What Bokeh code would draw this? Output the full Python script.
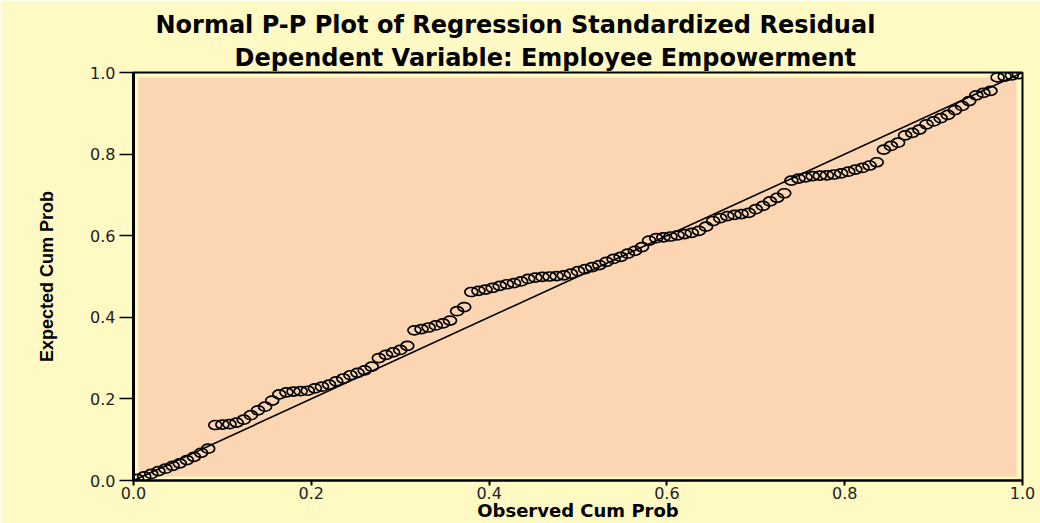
from bokeh.plotting import figure
from bokeh.models import Range1d, BoxAnnotation, FixedTicker, Slope, ColumnDataSource, Title
from bokeh.embed import file_html
from bokeh.resources import INLINE

# ---- data ----
observed = [0.004, 0.012, 0.020, 0.028, 0.036, 0.044, 0.052, 0.060, 0.068, 0.076,
            0.084, 0.092, 0.100, 0.108, 0.116, 0.124, 0.132, 0.140, 0.148, 0.156,
            0.164, 0.172, 0.180, 0.188, 0.196, 0.204, 0.212, 0.220, 0.228, 0.236,
            0.244, 0.252, 0.260, 0.268, 0.276, 0.284, 0.292, 0.300, 0.308, 0.316,
            0.324, 0.332, 0.340, 0.348, 0.356, 0.364, 0.372, 0.380, 0.388, 0.396,
            0.404, 0.412, 0.420, 0.428, 0.436, 0.444, 0.452, 0.460, 0.468, 0.476,
            0.484, 0.492, 0.500, 0.508, 0.516, 0.524, 0.532, 0.540, 0.548, 0.556,
            0.564, 0.572, 0.580, 0.588, 0.596, 0.604, 0.612, 0.620, 0.628, 0.636,
            0.644, 0.652, 0.660, 0.668, 0.676, 0.684, 0.692, 0.700, 0.708, 0.716,
            0.724, 0.732, 0.740, 0.748, 0.756, 0.764, 0.772, 0.780, 0.788, 0.796,
            0.804, 0.812, 0.820, 0.828, 0.836, 0.844, 0.852, 0.860, 0.868, 0.876,
            0.884, 0.892, 0.900, 0.908, 0.916, 0.924, 0.932, 0.940, 0.948, 0.956,
            0.964, 0.972, 0.980, 0.988, 0.996]
expected = [0.004, 0.010, 0.016, 0.023, 0.029, 0.036, 0.042, 0.050, 0.058, 0.068,
            0.078, 0.136, 0.137, 0.138, 0.142, 0.149, 0.160, 0.172, 0.181, 0.196,
            0.211, 0.216, 0.218, 0.219, 0.220, 0.226, 0.230, 0.235, 0.243, 0.250,
            0.258, 0.264, 0.270, 0.279, 0.300, 0.308, 0.314, 0.320, 0.330, 0.368,
            0.371, 0.375, 0.380, 0.385, 0.392, 0.415, 0.425, 0.462, 0.465, 0.468,
            0.472, 0.477, 0.481, 0.484, 0.488, 0.494, 0.497, 0.499, 0.500, 0.501,
            0.503, 0.507, 0.513, 0.518, 0.523, 0.528, 0.536, 0.543, 0.548, 0.556,
            0.563, 0.572, 0.588, 0.594, 0.596, 0.598, 0.601, 0.604, 0.607, 0.612,
            0.622, 0.636, 0.643, 0.648, 0.651, 0.653, 0.656, 0.665, 0.673, 0.684,
            0.693, 0.704, 0.735, 0.740, 0.743, 0.746, 0.747, 0.748, 0.750, 0.753,
            0.757, 0.762, 0.766, 0.772, 0.780, 0.811, 0.820, 0.828, 0.846, 0.852,
            0.860, 0.873, 0.880, 0.888, 0.896, 0.908, 0.918, 0.930, 0.944, 0.950,
            0.955, 0.988, 0.990, 0.993, 0.996]
tick_values = [0.0, 0.2, 0.4, 0.6, 0.8, 1.0]
tick_labels = ["0.0", "0.2", "0.4", "0.6", "0.8", "1.0"]

title_line1 = "Normal P-P Plot of Regression Standardized Residual"
title_line2 = "Dependent Variable: Employee Empowerment"
x_label = "Observed Cum Prob"
y_label = "Expected Cum Prob"

# ---- styling ----
YELLOW = "#FFF9C3"
PEACH = "#FCD5B2"

p = figure(width=1040, height=523, output_backend="svg", toolbar_location=None,
           x_range=Range1d(0, 1), y_range=Range1d(0, 1),
           min_border_left=133, min_border_right=18,
           min_border_top=72, min_border_bottom=0)

p.background_fill_color = YELLOW
p.border_fill_color = YELLOW
p.outline_line_color = "black"
p.outline_line_width = 2
p.xgrid.visible = False
p.ygrid.visible = False

# titles (closest to the frame first)
p.add_layout(Title(text=title_line2, align="left", offset=101, standoff=2,
                   text_font="DejaVu Sans", text_font_style="bold",
                   text_font_size="24px", text_color="black"), "above")
p.add_layout(Title(text=title_line1, align="left", offset=22, standoff=4,
                   text_font="DejaVu Sans", text_font_style="bold",
                   text_font_size="24px", text_color="black"), "above")

# peach inner panel
p.add_layout(BoxAnnotation(left=0.0056, right=0.9933, bottom=0.0098, top=0.988,
                           fill_color=PEACH, fill_alpha=1.0, line_color=None,
                           level="underlay"))

# reference diagonal
p.add_layout(Slope(gradient=1, y_intercept=0, line_color="black", line_width=1.6))

src = ColumnDataSource(dict(x=observed, y=expected))
p.ellipse(x="x", y="y", width=13, height=9, width_units="screen", height_units="screen",
          fill_color=None, line_color="black", line_width=1.7, source=src)

overrides = {v: t for v, t in zip(tick_values, tick_labels)}

for ax in (p.xaxis[0], p.yaxis[0]):
    ax.ticker = FixedTicker(ticks=tick_values)
    ax.major_label_overrides = overrides
    ax.minor_tick_line_color = None
    ax.major_tick_in = 0
    ax.axis_line_color = "black"
    ax.major_tick_line_color = "black"
    ax.major_label_text_font = "DejaVu Sans"
    ax.major_label_text_font_size = "16px"
    ax.major_label_text_color = "#222222"

xa = p.xaxis[0]
xa.axis_line_width = 2
xa.major_tick_out = 5
xa.major_tick_line_width = 2
xa.major_label_standoff = 1
xa.axis_label = x_label
xa.axis_label_text_font = "DejaVu Sans"
xa.axis_label_text_font_style = "bold"
xa.axis_label_text_font_size = "18px"
xa.axis_label_text_color = "black"
xa.axis_label_standoff = -2

ya = p.yaxis[0]
ya.axis_line_width = 3
ya.major_tick_out = 14
ya.major_tick_line_width = 1.5
ya.major_label_standoff = 4
ya.axis_label = y_label
ya.axis_label_text_font = "Liberation Sans"
ya.axis_label_text_font_style = "bold"
ya.axis_label_text_font_size = "18px"
ya.axis_label_text_color = "black"
ya.axis_label_standoff = 30

open("out.html", "w").write(file_html(p, INLINE))
